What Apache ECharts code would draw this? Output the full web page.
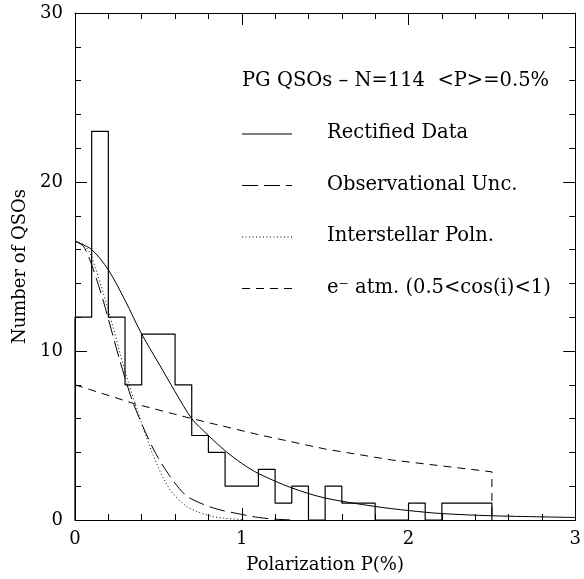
<!DOCTYPE html>
<html>
<head>
<meta charset="utf-8">
<script src="https://cdn.jsdelivr.net/npm/echarts@6/dist/echarts.min.js"></script>
<style>
  html, body { margin: 0; padding: 0; background: #fff; }
  #chart { width: 584px; height: 579px; }
</style>
</head>
<body>
<div id="chart"></div>
<script>
// histogram: left edge of each 0.1 bin and its count
const binStart = [0.0, 0.1, 0.2, 0.3, 0.4, 0.5, 0.6, 0.7, 0.8, 0.9, 1.0, 1.1, 1.2,
                  1.3, 1.4, 1.5, 1.6, 1.7, 1.8, 1.9, 2.0, 2.1, 2.2, 2.3, 2.4];
const counts   = [12, 23, 12, 8, 11, 11, 8, 5, 4, 2, 2, 3, 1,
                  2, 0, 2, 1, 1, 0, 0, 1, 0, 1, 1, 1];
const binEnd = 2.5;

// model curves
const rectX = [0, 0.1, 0.2, 0.3, 0.4, 0.5, 0.6, 0.7, 0.8, 0.9, 1.0, 1.1, 1.3, 1.5, 1.8, 2.0, 2.2, 2.5, 3.0];
const rectY = [16.5, 16.0, 14.8, 13.0, 11.0, 9.3, 7.6, 6.0, 5.0, 4.1, 3.35, 2.75, 1.9, 1.3, 0.8, 0.56, 0.38, 0.25, 0.15];

const obsX = [0, 0.05, 0.1, 0.17, 0.27, 0.35, 0.47, 0.565, 0.66, 0.74, 0.85, 1.0, 1.1, 1.2, 1.3];
const obsY = [16.5, 16.2, 15.1, 12.95, 9.4, 6.9, 4.2, 2.65, 1.5, 1.05, 0.65, 0.33, 0.15, 0.05, 0];

const ismX = [0, 0.05, 0.094, 0.196, 0.3, 0.37, 0.47, 0.565, 0.66, 0.74, 0.82, 0.9, 1.0];
const ismY = [16.5, 16.3, 15.7, 12.55, 8.8, 6.6, 3.8, 1.86, 0.87, 0.47, 0.22, 0.1, 0.03];

const atmX = [0, 0.35, 0.7, 1.1, 1.5, 1.9, 2.2, 2.5, 2.5];
const atmY = [8.0, 6.9, 6.0, 5.05, 4.2, 3.55, 3.2, 2.85, 0];

const xTicks = [0, 1, 2, 3];
const yTicks = [0, 10, 20, 30];

const legendRows = [
  { label: 'Rectified Data', type: 'solid' },
  { label: 'Observational Unc.', type: [16, 6] },
  { label: 'Interstellar Poln.', type: [1, 2.5] },
  { label: 'e\u207B atm. (0.5<cos(i)<1)', type: [8, 6] }
];
const headerText = 'PG QSOs \u2013 N=114  <P>=0.5%';

const FONT = 'DejaVu Serif';

function zip(xs, ys) { return xs.map((x, i) => [x, ys[i]]); }

const histData = [[binStart[0], 0]]
  .concat(binStart.map((x, i) => [x, counts[i]]))
  .concat([[binEnd, 0]]);

const chart = echarts.init(document.getElementById('chart'), null, { renderer: 'canvas' });

const baseAxis = {
  min: 0,
  axisLine: { show: true, onZero: false, lineStyle: { color: '#000', width: 1 } },
  axisTick: { show: true, inside: true, length: 12, lineStyle: { color: '#000' } },
  minorTick: { show: true, splitNumber: 5, length: 6, lineStyle: { color: '#000' } },
  splitLine: { show: false },
  minorSplitLine: { show: false }
};

function lineSeries(name, data, type, extra) {
  return Object.assign({
    name: name,
    type: 'line',
    data: data,
    showSymbol: false,
    symbol: 'none',
    silent: true,
    lineStyle: { color: '#000', width: 1, type: type },
    z: 3
  }, extra || {});
}

const graphics = [{
  type: 'text', left: 242, top: 82 - 11,
  style: { text: headerText, font: '19.5px "' + FONT + '"', fill: '#000' }
}];
legendRows.forEach((row, i) => {
  const y = 134 + i * 51.5;
  graphics.push({
    type: 'line',
    shape: { x1: 242, y1: y, x2: 292, y2: y },
    style: { stroke: '#000', lineWidth: 1, lineDash: row.type === 'solid' ? null : row.type }
  });
  graphics.push({
    type: 'text', left: 327, top: y - 11,
    style: { text: row.label, font: '19.5px "' + FONT + '"', fill: '#000' }
  });
});

chart.setOption({
  animation: false,
  backgroundColor: '#fff',
  grid: { left: 75, right: 5, top: 13, bottom: 56 },
  xAxis: [
    Object.assign({}, baseAxis, {
      type: 'value', max: 3, interval: 1, position: 'bottom',
      name: 'Polarization P(%)', nameLocation: 'middle', nameGap: 36,
      nameTextStyle: { fontFamily: FONT, fontSize: 18, color: '#000' },
      axisLabel: {
        fontFamily: FONT, fontSize: 18, color: '#000', margin: 10,
        formatter: v => xTicks.indexOf(v) >= 0 ? String(v) : ''
      }
    }),
    Object.assign({}, baseAxis, {
      type: 'value', max: 3, interval: 1, position: 'top',
      axisLabel: { show: false }
    })
  ],
  yAxis: [
    Object.assign({}, baseAxis, {
      type: 'value', max: 30, interval: 10, position: 'left',
      name: 'Number of QSOs', nameLocation: 'middle', nameGap: 46, nameRotate: 90,
      nameTextStyle: { fontFamily: FONT, fontSize: 18, color: '#000' },
      axisLabel: {
        fontFamily: FONT, fontSize: 18, color: '#000', margin: 12,
        formatter: v => yTicks.indexOf(v) >= 0 ? String(v) : ''
      }
    }),
    Object.assign({}, baseAxis, {
      type: 'value', max: 30, interval: 10, position: 'right',
      axisLabel: { show: false }
    })
  ],
  series: [
    lineSeries('Histogram', histData, 'solid', { step: 'end', lineStyle: { color: '#000', width: 1.2 } }),
    lineSeries('Rectified Data', zip(rectX, rectY), 'solid', { smooth: 0.3 }),
    lineSeries('Observational Unc.', zip(obsX, obsY), [16, 6], { smooth: 0.3 }),
    lineSeries('Interstellar Poln.', zip(ismX, ismY), [1, 2.5], { smooth: 0.3 }),
    lineSeries('e- atm.', zip(atmX, atmY), [8, 6])
  ],
  graphic: graphics
});
</script>
</body>
</html>
